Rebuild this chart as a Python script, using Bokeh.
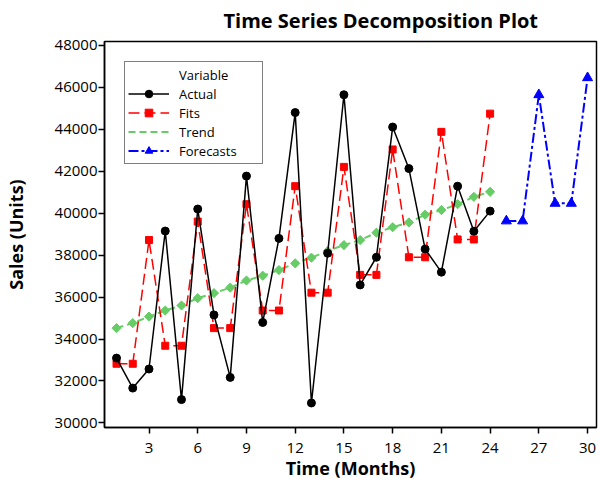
from bokeh.plotting import figure
from bokeh.models import Range1d, Legend, LegendItem, FixedTicker
from bokeh.embed import file_html
from bokeh.resources import INLINE

t_obs = list(range(1, 25))
actual = [33090, 31660, 32570, 39150, 31110, 40200, 35150, 32170, 41770, 34790, 38800, 44800,
          30950, 38090, 45650, 36580, 37900, 44110, 42130, 38290, 37190, 41290, 39140, 40100]
fits = [32820, 32820, 38720, 33680, 33680, 39600, 34520, 34520, 40430, 35360, 35360, 41290,
        36210, 36210, 42210, 37060, 37060, 43040, 37900, 37900, 43880, 38750, 38750, 44750]
trend = [34520, 34760, 35070, 35360, 35600, 35950, 36190, 36450, 36790, 37020, 37290, 37610,
         37880, 38200, 38480, 38720, 39070, 39330, 39560, 39930, 40150, 40430, 40780, 41020]
t_fc = [25, 26, 27, 28, 29, 30]
forecasts = [39630, 39630, 45650, 40470, 40470, 46460]

x_ticks = [3, 6, 9, 12, 15, 18, 21, 24, 27, 30]
y_ticks = [30000, 32000, 34000, 36000, 38000, 40000, 42000, 44000, 46000, 48000]

TITLE = "Time Series Decomposition Plot"
X_LABEL = "Time (Months)"
Y_LABEL = "Sales (Units)"

FONT = "Open Sans"
GREEN = "#66CC66"

p = figure(width=600, height=482, output_backend="svg", toolbar_location=None,
           x_range=Range1d(0.26, 30.55), y_range=Range1d(29780, 48190),
           min_border_left=101, min_border_right=4, min_border_top=41, min_border_bottom=54)

p.title.text = TITLE
p.title.text_font = FONT
p.title.text_font_size = "20px"
p.title.text_font_style = "bold"
p.title.text_color = "black"
p.title.align = "left"
p.title.offset = 119
p.title.vertical_align = "top"
p.title.standoff = 12

p.xgrid.visible = False
p.ygrid.visible = False
p.outline_line_color = "black"
p.outline_line_width = 1.5
p.outline_line_alpha = 1.0
p.background_fill_color = "white"
p.border_fill_color = "white"

for ax in (p.xaxis[0], p.yaxis[0]):
    ax.major_label_text_font = FONT
    ax.major_label_text_font_size = "15px"
    ax.major_label_text_color = "black"
    ax.axis_label_text_font = FONT
    ax.axis_label_text_font_size = "18px"
    ax.axis_label_text_font_style = "bold"
    ax.axis_label_text_color = "black"
    ax.axis_line_color = "black"
    ax.axis_line_width = 1.5
    ax.major_tick_line_color = "black"
    ax.major_tick_line_width = 1.5
    ax.major_tick_in = 0
    ax.major_tick_out = 6
    ax.minor_tick_line_color = None

p.xaxis[0].ticker = FixedTicker(ticks=x_ticks)
p.yaxis[0].ticker = FixedTicker(ticks=y_ticks)
p.xaxis[0].axis_label = X_LABEL
p.yaxis[0].axis_label = Y_LABEL
p.xaxis[0].major_label_standoff = 9
p.yaxis[0].major_label_standoff = 1
p.xaxis[0].axis_label_standoff = 0
p.yaxis[0].axis_label_standoff = 24

# Trend
tl = p.line(t_obs, trend, line_color=GREEN, line_width=2, line_dash="7 4")
ts = p.scatter(t_obs, trend, marker="square", angle=0.785398, size=6.5,
               fill_color=GREEN, line_color=GREEN)
# Fits
fl = p.line(t_obs, fits, line_color="red", line_width=1.5, line_dash="11 5")
fs = p.scatter(t_obs, fits, marker="square", size=7, fill_color="red", line_color="red")
# Actual
al = p.line(t_obs, actual, line_color="black", line_width=1.5)
ascat = p.scatter(t_obs, actual, marker="circle", size=8, fill_color="black", line_color="black")
# Forecasts
cl = p.line(t_fc, forecasts, line_color="blue", line_width=2, line_dash="10 3 3 3")
cs = p.scatter(t_fc, forecasts, marker="triangle", size=10, fill_color="blue", line_color="blue")

dummy = p.scatter([], [], marker="circle", size=1, fill_alpha=0, line_alpha=0)
trend_key = p.scatter([], [], marker="diamond", size=11, fill_color=GREEN, line_color=GREEN)

legend = Legend(items=[
    LegendItem(label="Variable", renderers=[dummy]),
    LegendItem(label="Actual", renderers=[al, ascat]),
    LegendItem(label="Fits", renderers=[fl, fs]),
    LegendItem(label="Trend", renderers=[tl, trend_key]),
    LegendItem(label="Forecasts", renderers=[cl, cs]),
], location="top_left")
legend.margin = 20
legend.padding = 3
legend.spacing = 0
legend.glyph_width = 41
legend.glyph_height = 19
legend.label_height = 19
legend.label_width = 80
legend.label_standoff = 10
legend.label_text_font = FONT
legend.label_text_font_size = "13px"
legend.label_text_color = "black"
legend.border_line_color = "black"
legend.border_line_width = 1.5
legend.background_fill_alpha = 1.0
p.add_layout(legend)

open("out.html", "w").write(file_html(p, INLINE))
